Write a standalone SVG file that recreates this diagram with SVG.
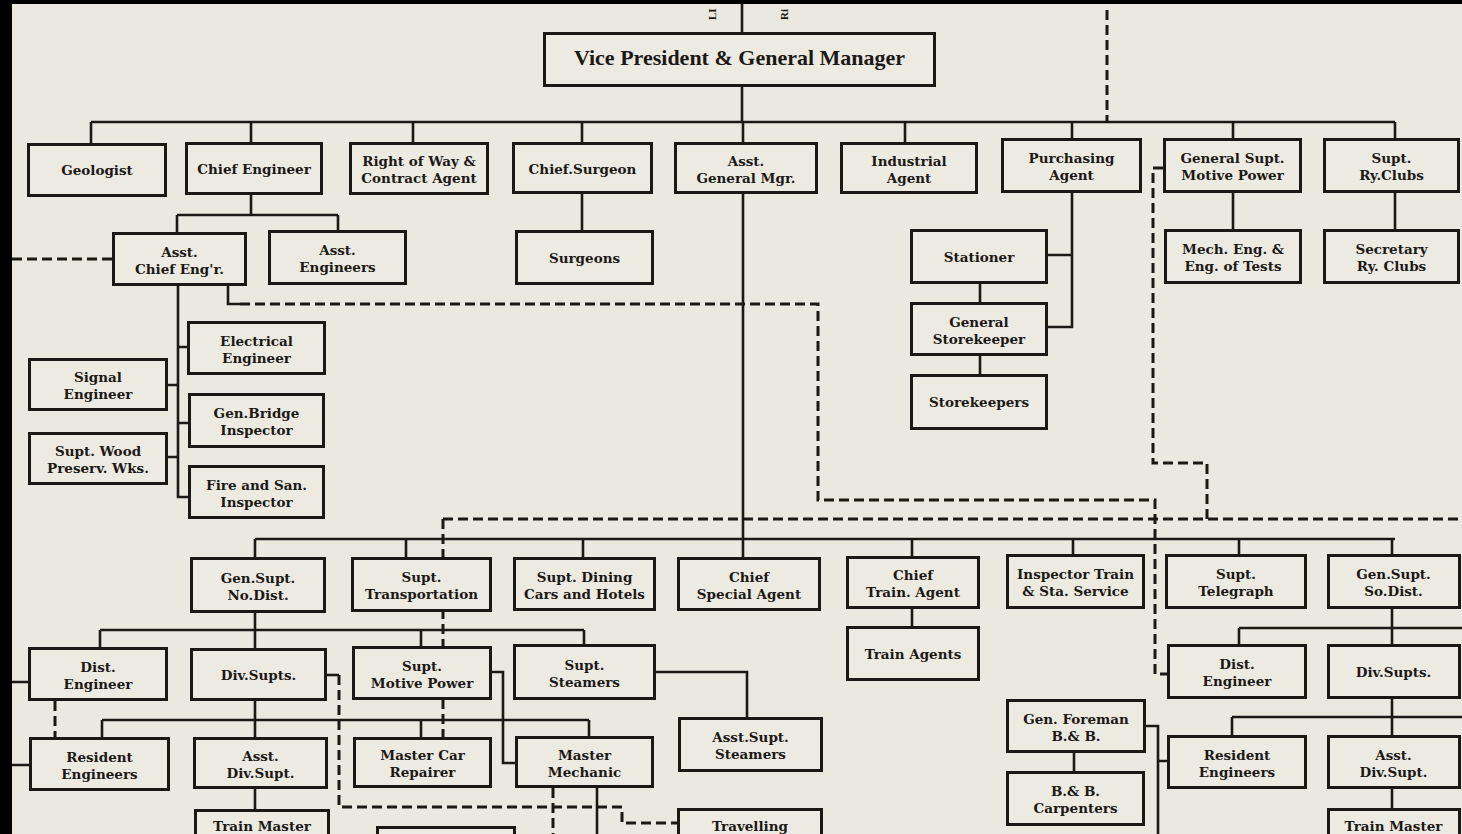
<svg xmlns="http://www.w3.org/2000/svg" width="1462" height="834" viewBox="0 0 1462 834">
<defs>
<style>
.bg{fill:#ebe8df}
.n rect{fill:#edeae2;stroke:#1b1916;stroke-width:3}
.n text{font-family:"DejaVu Serif","Liberation Serif",serif;font-weight:bold;font-size:13.5px;fill:#1b1916;text-anchor:middle}
.n text.vpt{font-family:"Liberation Serif","Times New Roman",serif;font-size:22px}
.c path{fill:none;stroke:#1b1916;stroke-width:2.6}
.c .d{stroke-dasharray:10 5;stroke-width:3}
.frag{font-family:"Liberation Serif",serif;font-weight:bold;font-size:11px;fill:#1b1916}
</style>
</defs>
<rect class="bg" x="0" y="0" width="1462" height="834"/>
<rect x="0" y="0" width="1462" height="4" fill="#000"/>
<rect x="0" y="0" width="12" height="834" fill="#000"/>
<text class="frag" transform="translate(716,20) rotate(-90)">LI</text>
<text class="frag" transform="translate(788,20) rotate(-90)">Ri</text>

<g id="connectors" class="c">
<path d="M742,4 V32 M742,87 V122 M91,122 H1395"/>
<path d="M91,122 V143 M251,122 V142 M413,122 V142 M582,122 V142 M743,122 V142 M905,122 V142 M1072,122 V138 M1233,122 V138 M1395,122 V138"/>
<path d="M743,194 V539"/>
<path d="M251,195 V215 M177,215 H338 M177,215 V232 M338,215 V230"/>
<path d="M178,286 V497 H188 M178,347 H187 M168,385 H178 M178,423 H188 M168,457 H178"/>
<path d="M228,286 V304 H240"/>
<path d="M582,194 V230"/>
<path d="M1072,193 V327 H1048 M1048,255 H1072 M980,284 V302 M980,356 V374"/>
<path d="M1233,193 V229 M1395,193 V229"/>
<path d="M255,539 H1395"/>
<path d="M255,539 V557 M406,539 V557 M583,539 V557 M743,539 V557 M912,539 V556 M1073,539 V554 M1239,539 V554 M1392,539 V554"/>
<path d="M912,609 V626"/>
<path d="M255,613 V630 M100,630 H584 M100,630 V647 M255,630 V648 M421,630 V646 M584,630 V644"/>
<path d="M656,672 H747 V717"/>
<path d="M255,701 V720 M102,720 H589 M102,720 V737 M255,720 V737 M421,720 V737 M589,720 V736"/>
<path d="M255,789 V809"/>
<path d="M492,672 H503 V763 H515"/>
<path d="M327,675 H339"/>
<path d="M597,788 V834"/>
<path d="M12,682 H28 M12,765 H29"/>
<path d="M1392,609 V628 M1239,628 H1462 M1239,628 V644 M1392,628 V644"/>
<path d="M1392,699 V717 M1232,717 H1462 M1232,717 V735 M1392,717 V735"/>
<path d="M1392,789 V808"/>
<path d="M1074,753 V771 M1146,726 H1158 V834 M1158,761 H1167"/>
<path class="d" d="M1107,10 V122"/>
<path class="d" d="M12,259 H112"/>
<path class="d" d="M240,304 H818 V500 H1155 V674 H1167"/>
<path class="d" d="M1163,168 H1153 V463 H1207 V519"/>
<path class="d" d="M443,519 H1462"/>
<path class="d" d="M443,519 V737"/>
<path class="d" d="M55,701 V737"/>
<path class="d" d="M339,675 V807 H622 V823 H677"/>
<path class="d" d="M553,788 V834"/>
</g>

<g id="vp" class="n"><rect x="544.5" y="33.5" width="390" height="52"/><text class="vpt" x="739.5" y="65">Vice President &amp; General Manager</text></g>
<g id="geologist" class="n"><rect x="28.5" y="144.5" width="137" height="51"/><text x="97" y="175">Geologist</text></g>
<g id="chief-engineer" class="n"><rect x="186.5" y="143.5" width="135" height="50"/><text x="254" y="174">Chief Engineer</text></g>
<g id="right-of-way" class="n"><rect x="350.5" y="143.5" width="137" height="50"/><text x="419" y="166">Right of Way &amp;</text><text x="419" y="183">Contract Agent</text></g>
<g id="chief-surgeon" class="n"><rect x="513.5" y="143.5" width="138" height="49"/><text x="582.5" y="173.5">Chief.Surgeon</text></g>
<g id="asst-general-mgr" class="n"><rect x="675.5" y="143.5" width="141" height="49"/><text x="746" y="165.5">Asst.</text><text x="746" y="182.5">General Mgr.</text></g>
<g id="industrial-agent" class="n"><rect x="841.5" y="143.5" width="135" height="49"/><text x="909" y="165.5">Industrial</text><text x="909" y="182.5">Agent</text></g>
<g id="purchasing-agent" class="n"><rect x="1002.5" y="139.5" width="138" height="52"/><text x="1071.5" y="163">Purchasing</text><text x="1071.5" y="180">Agent</text></g>
<g id="gen-supt-motive-power" class="n"><rect x="1164.5" y="139.5" width="136" height="52"/><text x="1232.5" y="163">General Supt.</text><text x="1232.5" y="180">Motive Power</text></g>
<g id="supt-ry-clubs" class="n"><rect x="1324.5" y="139.5" width="134" height="52"/><text x="1391.5" y="163">Supt.</text><text x="1391.5" y="180">Ry.Clubs</text></g>

<g id="asst-chief-eng" class="n"><rect x="113.5" y="233.5" width="132" height="51"/><text x="179.5" y="256.5">Asst.</text><text x="179.5" y="273.5">Chief Eng'r.</text></g>
<g id="asst-engineers" class="n"><rect x="269.5" y="231.5" width="136" height="52"/><text x="337.5" y="255">Asst.</text><text x="337.5" y="272">Engineers</text></g>
<g id="surgeons" class="n"><rect x="516.5" y="231.5" width="136" height="52"/><text x="584.5" y="263">Surgeons</text></g>
<g id="stationer" class="n"><rect x="911.5" y="230.5" width="135" height="52"/><text x="979" y="262">Stationer</text></g>
<g id="general-storekeeper" class="n"><rect x="911.5" y="303.5" width="135" height="51"/><text x="979" y="326.5">General</text><text x="979" y="343.5">Storekeeper</text></g>
<g id="storekeepers" class="n"><rect x="911.5" y="375.5" width="135" height="53"/><text x="979" y="407">Storekeepers</text></g>
<g id="mech-eng" class="n"><rect x="1165.5" y="230.5" width="135" height="52"/><text x="1233" y="254">Mech. Eng. &amp;</text><text x="1233" y="271">Eng. of Tests</text></g>
<g id="secretary-ry-clubs" class="n"><rect x="1324.5" y="230.5" width="134" height="52"/><text x="1391.5" y="254">Secretary</text><text x="1391.5" y="271">Ry. Clubs</text></g>

<g id="electrical-engineer" class="n"><rect x="188.5" y="322.5" width="136" height="51"/><text x="256.5" y="345.5">Electrical</text><text x="256.5" y="362.5">Engineer</text></g>
<g id="signal-engineer" class="n"><rect x="29.5" y="359.5" width="137" height="50"/><text x="98" y="382">Signal</text><text x="98" y="399">Engineer</text></g>
<g id="gen-bridge-inspector" class="n"><rect x="189.5" y="394.5" width="134" height="52"/><text x="256.5" y="418">Gen.Bridge</text><text x="256.5" y="435">Inspector</text></g>
<g id="supt-wood" class="n"><rect x="29.5" y="433.5" width="137" height="50"/><text x="98" y="456">Supt. Wood</text><text x="98" y="473">Preserv. Wks.</text></g>
<g id="fire-san-inspector" class="n"><rect x="189.5" y="466.5" width="134" height="51"/><text x="256.5" y="489.5">Fire and San.</text><text x="256.5" y="506.5">Inspector</text></g>

<g id="gen-supt-no-dist" class="n"><rect x="191.5" y="558.5" width="133" height="53"/><text x="258" y="582.5">Gen.Supt.</text><text x="258" y="599.5">No.Dist.</text></g>
<g id="supt-transportation" class="n"><rect x="352.5" y="558.5" width="138" height="52"/><text x="421.5" y="582">Supt.</text><text x="421.5" y="599">Transportation</text></g>
<g id="supt-dining" class="n"><rect x="514.5" y="558.5" width="140" height="51"/><text x="584.5" y="581.5">Supt. Dining</text><text x="584.5" y="598.5">Cars and Hotels</text></g>
<g id="chief-special-agent" class="n"><rect x="678.5" y="558.5" width="141" height="51"/><text x="749" y="581.5">Chief</text><text x="749" y="598.5">Special Agent</text></g>
<g id="chief-train-agent" class="n"><rect x="847.5" y="557.5" width="131" height="50"/><text x="913" y="580">Chief</text><text x="913" y="597">Train. Agent</text></g>
<g id="inspector-train" class="n"><rect x="1007.5" y="555.5" width="136" height="52"/><text x="1075.5" y="579">Inspector Train</text><text x="1075.5" y="596">&amp; Sta. Service</text></g>
<g id="supt-telegraph" class="n"><rect x="1166.5" y="555.5" width="139" height="52"/><text x="1236" y="579">Supt.</text><text x="1236" y="596">Telegraph</text></g>
<g id="gen-supt-so-dist" class="n"><rect x="1328.5" y="555.5" width="131" height="52"/><text x="1393.5" y="579">Gen.Supt.</text><text x="1393.5" y="596">So.Dist.</text></g>

<g id="train-agents" class="n"><rect x="847.5" y="627.5" width="131" height="52"/><text x="913" y="659">Train Agents</text></g>
<g id="dist-engineer-no" class="n"><rect x="29.5" y="648.5" width="137" height="51"/><text x="98" y="671.5">Dist.</text><text x="98" y="688.5">Engineer</text></g>
<g id="div-supts-no" class="n"><rect x="191.5" y="649.5" width="134" height="50"/><text x="258.5" y="680">Div.Supts.</text></g>
<g id="supt-motive-power-no" class="n"><rect x="353.5" y="647.5" width="137" height="51"/><text x="422" y="670.5">Supt.</text><text x="422" y="687.5">Motive Power</text></g>
<g id="supt-steamers" class="n"><rect x="514.5" y="645.5" width="140" height="53"/><text x="584.5" y="669.5">Supt.</text><text x="584.5" y="686.5">Steamers</text></g>
<g id="asst-supt-steamers" class="n"><rect x="679.5" y="718.5" width="142" height="52"/><text x="750.5" y="742">Asst.Supt.</text><text x="750.5" y="759">Steamers</text></g>
<g id="resident-engineers-no" class="n"><rect x="30.5" y="738.5" width="138" height="51"/><text x="99.5" y="761.5">Resident</text><text x="99.5" y="778.5">Engineers</text></g>
<g id="asst-div-supt-no" class="n"><rect x="194.5" y="738.5" width="132" height="49"/><text x="260.5" y="760.5">Asst.</text><text x="260.5" y="777.5">Div.Supt.</text></g>
<g id="master-car-repairer" class="n"><rect x="354.5" y="738.5" width="136" height="48"/><text x="422.5" y="760">Master Car</text><text x="422.5" y="777">Repairer</text></g>
<g id="master-mechanic" class="n"><rect x="516.5" y="737.5" width="136" height="49"/><text x="584.5" y="759.5">Master</text><text x="584.5" y="776.5">Mechanic</text></g>
<g id="train-master-no" class="n"><rect x="195.5" y="810.5" width="133" height="40"/><text x="262" y="831">Train Master</text></g>
<g id="bottom-box" class="n"><rect x="377.5" y="827.5" width="137" height="30"/></g>
<g id="travelling" class="n"><rect x="678.5" y="809.5" width="143" height="40"/><text x="750" y="831">Travelling</text></g>
<g id="gen-foreman-bb" class="n"><rect x="1007.5" y="700.5" width="137" height="51"/><text x="1076" y="723.5">Gen. Foreman</text><text x="1076" y="740.5">B.&amp; B.</text></g>
<g id="bb-carpenters" class="n"><rect x="1007.5" y="772.5" width="136" height="52"/><text x="1075.5" y="796">B.&amp; B.</text><text x="1075.5" y="813">Carpenters</text></g>
<g id="dist-engineer-so" class="n"><rect x="1168.5" y="645.5" width="137" height="52"/><text x="1237" y="669">Dist.</text><text x="1237" y="686">Engineer</text></g>
<g id="div-supts-so" class="n"><rect x="1328.5" y="645.5" width="131" height="52"/><text x="1393.5" y="677">Div.Supts.</text></g>
<g id="resident-engineers-so" class="n"><rect x="1168.5" y="736.5" width="137" height="51"/><text x="1237" y="759.5">Resident</text><text x="1237" y="776.5">Engineers</text></g>
<g id="asst-div-supt-so" class="n"><rect x="1328.5" y="736.5" width="131" height="51"/><text x="1393.5" y="759.5">Asst.</text><text x="1393.5" y="776.5">Div.Supt.</text></g>
<g id="train-master-so" class="n"><rect x="1328.5" y="809.5" width="131" height="40"/><text x="1393.5" y="831">Train Master</text></g>
</svg>
